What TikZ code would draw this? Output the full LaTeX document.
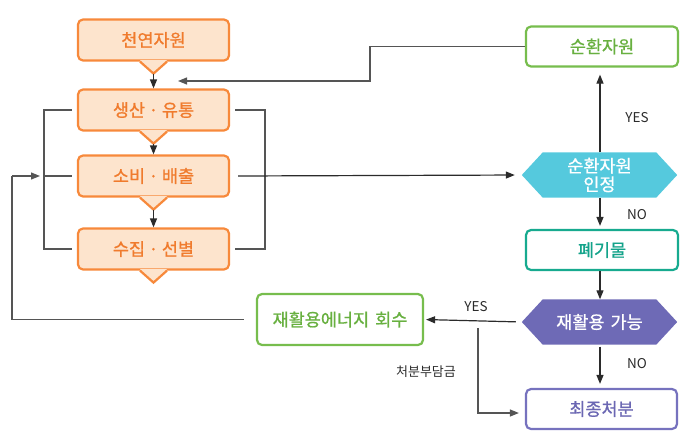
\documentclass[tikz,border=0pt]{standalone}
\usepackage{fontspec}
\setmainfont{Noto Sans CJK KR}
\newfontfamily\boxfont{Noto Sans CJK KR}[FakeBold=0.9]
\usetikzlibrary{arrows.meta,calc,backgrounds}
\definecolor{orline}{HTML}{F7893B}
\definecolor{orfill}{HTML}{FDE4CD}
\definecolor{ortext}{HTML}{F07B2D}
\definecolor{grline}{HTML}{77BD4D}
\definecolor{grtext}{HTML}{68B040}
\definecolor{tlline}{HTML}{17AA8F}
\definecolor{tltext}{HTML}{13A38A}
\definecolor{cyhex}{HTML}{55C9DD}
\definecolor{puhex}{HTML}{6E6AB6}
\definecolor{puline}{HTML}{7672BE}
\definecolor{putext}{HTML}{6B67B3}
\definecolor{conn}{HTML}{555555}
\definecolor{arrc}{HTML}{2B2B2B}
\newcommand\mypointer[1]{%
  \fill[orfill] ($(#1.south)+(-13.5,-1.6)$) -- ($(#1.south)+(13.5,-1.6)$) -- ($(#1.south)+(0,12)$) -- cycle;
  \draw[orline,line width=2.2pt,line join=miter] ($(#1.south)+(-13.5,0)$) -- ($(#1.south)+(0,12)$) -- ($(#1.south)+(13.5,0)$);
  \coordinate (#1tip) at ($(#1.south)+(0,12)$);}
\newcommand\myhex[3]{%
  \begin{pgfonlayer}{background}
  \fill[#1] (#2.west) -- ($(#2.north west)+(#3,0)$) -- ($(#2.north east)+(-#3,0)$) -- (#2.east) -- ($(#2.south east)+(-#3,0)$) -- ($(#2.south west)+(#3,0)$) -- cycle;
  \end{pgfonlayer}}
\newcommand\wsp{\hspace{6pt}}
\newcommand\mdot{\hspace{3.5pt}·\hspace{3.5pt}}
\tikzset{
  obox/.style={draw=orline, line width=2.2pt, fill=orfill, rounded corners=5pt, minimum width=151pt, minimum height=41pt, text=ortext, font=\boxfont\fontsize{17.5}{20}\selectfont, inner sep=0pt},
  wbox/.style={fill=white, line width=2.2pt, rounded corners=5pt, minimum width=152pt, minimum height=40pt, font=\boxfont\fontsize{17.5}{20}\selectfont, inner sep=0pt},
  hexnode/.style={minimum width=155pt, minimum height=45pt, text=white, font=\boxfont\fontsize{17.5}{20}\selectfont, inner sep=0pt, align=center},
  conline/.style={draw=conn, line width=1.2pt},
  arr/.style={draw=arrc, line width=1.2pt, -{Triangle[length=9pt,width=7pt]}},
  lbl/.style={text=arrc, font=\fontsize{13.5}{15}\selectfont, inner sep=0pt}
}
\begin{document}
\begin{tikzpicture}[x=1pt,y=-1pt]
\useasboundingbox (0,0) rectangle (698,434);
% left column
\node[obox] (c1) at (153.5,40) {천연자원};
\node[obox] (c2) at (153.5,110) {생산\mdot 유통};
\node[obox] (c3) at (153.5,176) {소비\mdot 배출};
\node[obox] (c4) at (153.5,249) {수집\mdot 선별};
\mypointer{c1}\mypointer{c2}\mypointer{c3}\mypointer{c4}
% right column
\node[wbox, draw=grline, text=grtext] (r1) at (602,46.5) {순환자원};
\node[hexnode] (h1) at (599.5,175) {순환자원\\[-1.5pt]인정};
\myhex{cyhex}{h1}{21}
\node[wbox, draw=tlline, text=tltext] (w) at (602,250) {폐기물};
\node[hexnode] (h2) at (599.5,322) {재활용\wsp 가능};
\myhex{puhex}{h2}{21}
\node[wbox, draw=puline, text=putext, minimum width=151pt] (f) at (601.5,409) {최종처분};
\node[wbox, draw=grline, text=grtext, minimum width=166pt, minimum height=51pt] (e) at (340,319.5) {재활용에너지\wsp 회수};
% arrows in left column
\draw[arr] (c1tip) -- (c2.north);
\draw[arr] (c2tip) -- (c3.north);
\draw[arr] (c3tip) -- (c4.north);
% brackets
\coordinate (bl) at (44,110);
\coordinate (br) at (265,110);
\draw[conline] ($(c2.west)+(-5,0)$) -- (bl) |- ($(c4.west)+(-5,0)$);
\draw[conline] ($(c3.west)+(-5,0)$) -- (c3.west -| bl);
\draw[conline] ($(c2.east)+(5,0)$) -- (br) |- ($(c4.east)+(5,0)$);
% consumption -> recognition
\draw[arr, shorten >=7pt] ($(c3.east)+(8,0)$) -- (h1.west);
% recognition YES -> circular resource
\draw[arr, shorten >=7pt] (h1.north -| 600,0) -- (r1.south -| 600,0);
\node[lbl] (yes1) at (637,118) {YES};
% circular resource -> back to production
\coordinate (ret1) at (178,81);
\draw[conline, -{Triangle[length=9pt,width=7pt]}] (r1.west) -- ++(-155,0) |- (ret1);
% recognition NO -> waste
\draw[arr, shorten >=3pt] (h1.south -| 600,0) -- (w.north -| 600,0);
\node[lbl] (no1) at (637,215) {NO};
% waste -> recyclable
\draw[arr] (w.south -| 600,0) -- (h2.north -| 600,0);
% recyclable YES -> energy recovery
\draw[arr, shorten <=6pt, shorten >=2pt] (h2.west) -- (e.east);
\node[lbl] (yes2) at (476,307) {YES};
% branch to final disposal
\coordinate (bra) at (478,328);
\draw[conline, -{Triangle[length=9pt,width=7pt]}, shorten >=6pt] (bra) |- ($(f.west)+(0,4)$);
\node[lbl, font=\fontsize{13}{15}\selectfont] (fee) at (426,372) {처분부담금};
% recyclable NO -> final disposal
\draw[arr, shorten <=2pt, shorten >=4pt] (h2.south -| 600,0) -- (f.north -| 600,0);
\node[lbl] (no2) at (637,364) {NO};
% energy recovery -> back to consumption
\coordinate (ret2) at (40,176);
\draw[conline] ($(e.west)+(-12,0)$) -- (12,319.5) -- (12,176);
\draw[conline, -{Triangle[length=9pt,width=7pt]}] (12,176) -- (ret2);
\end{tikzpicture}
\end{document}
